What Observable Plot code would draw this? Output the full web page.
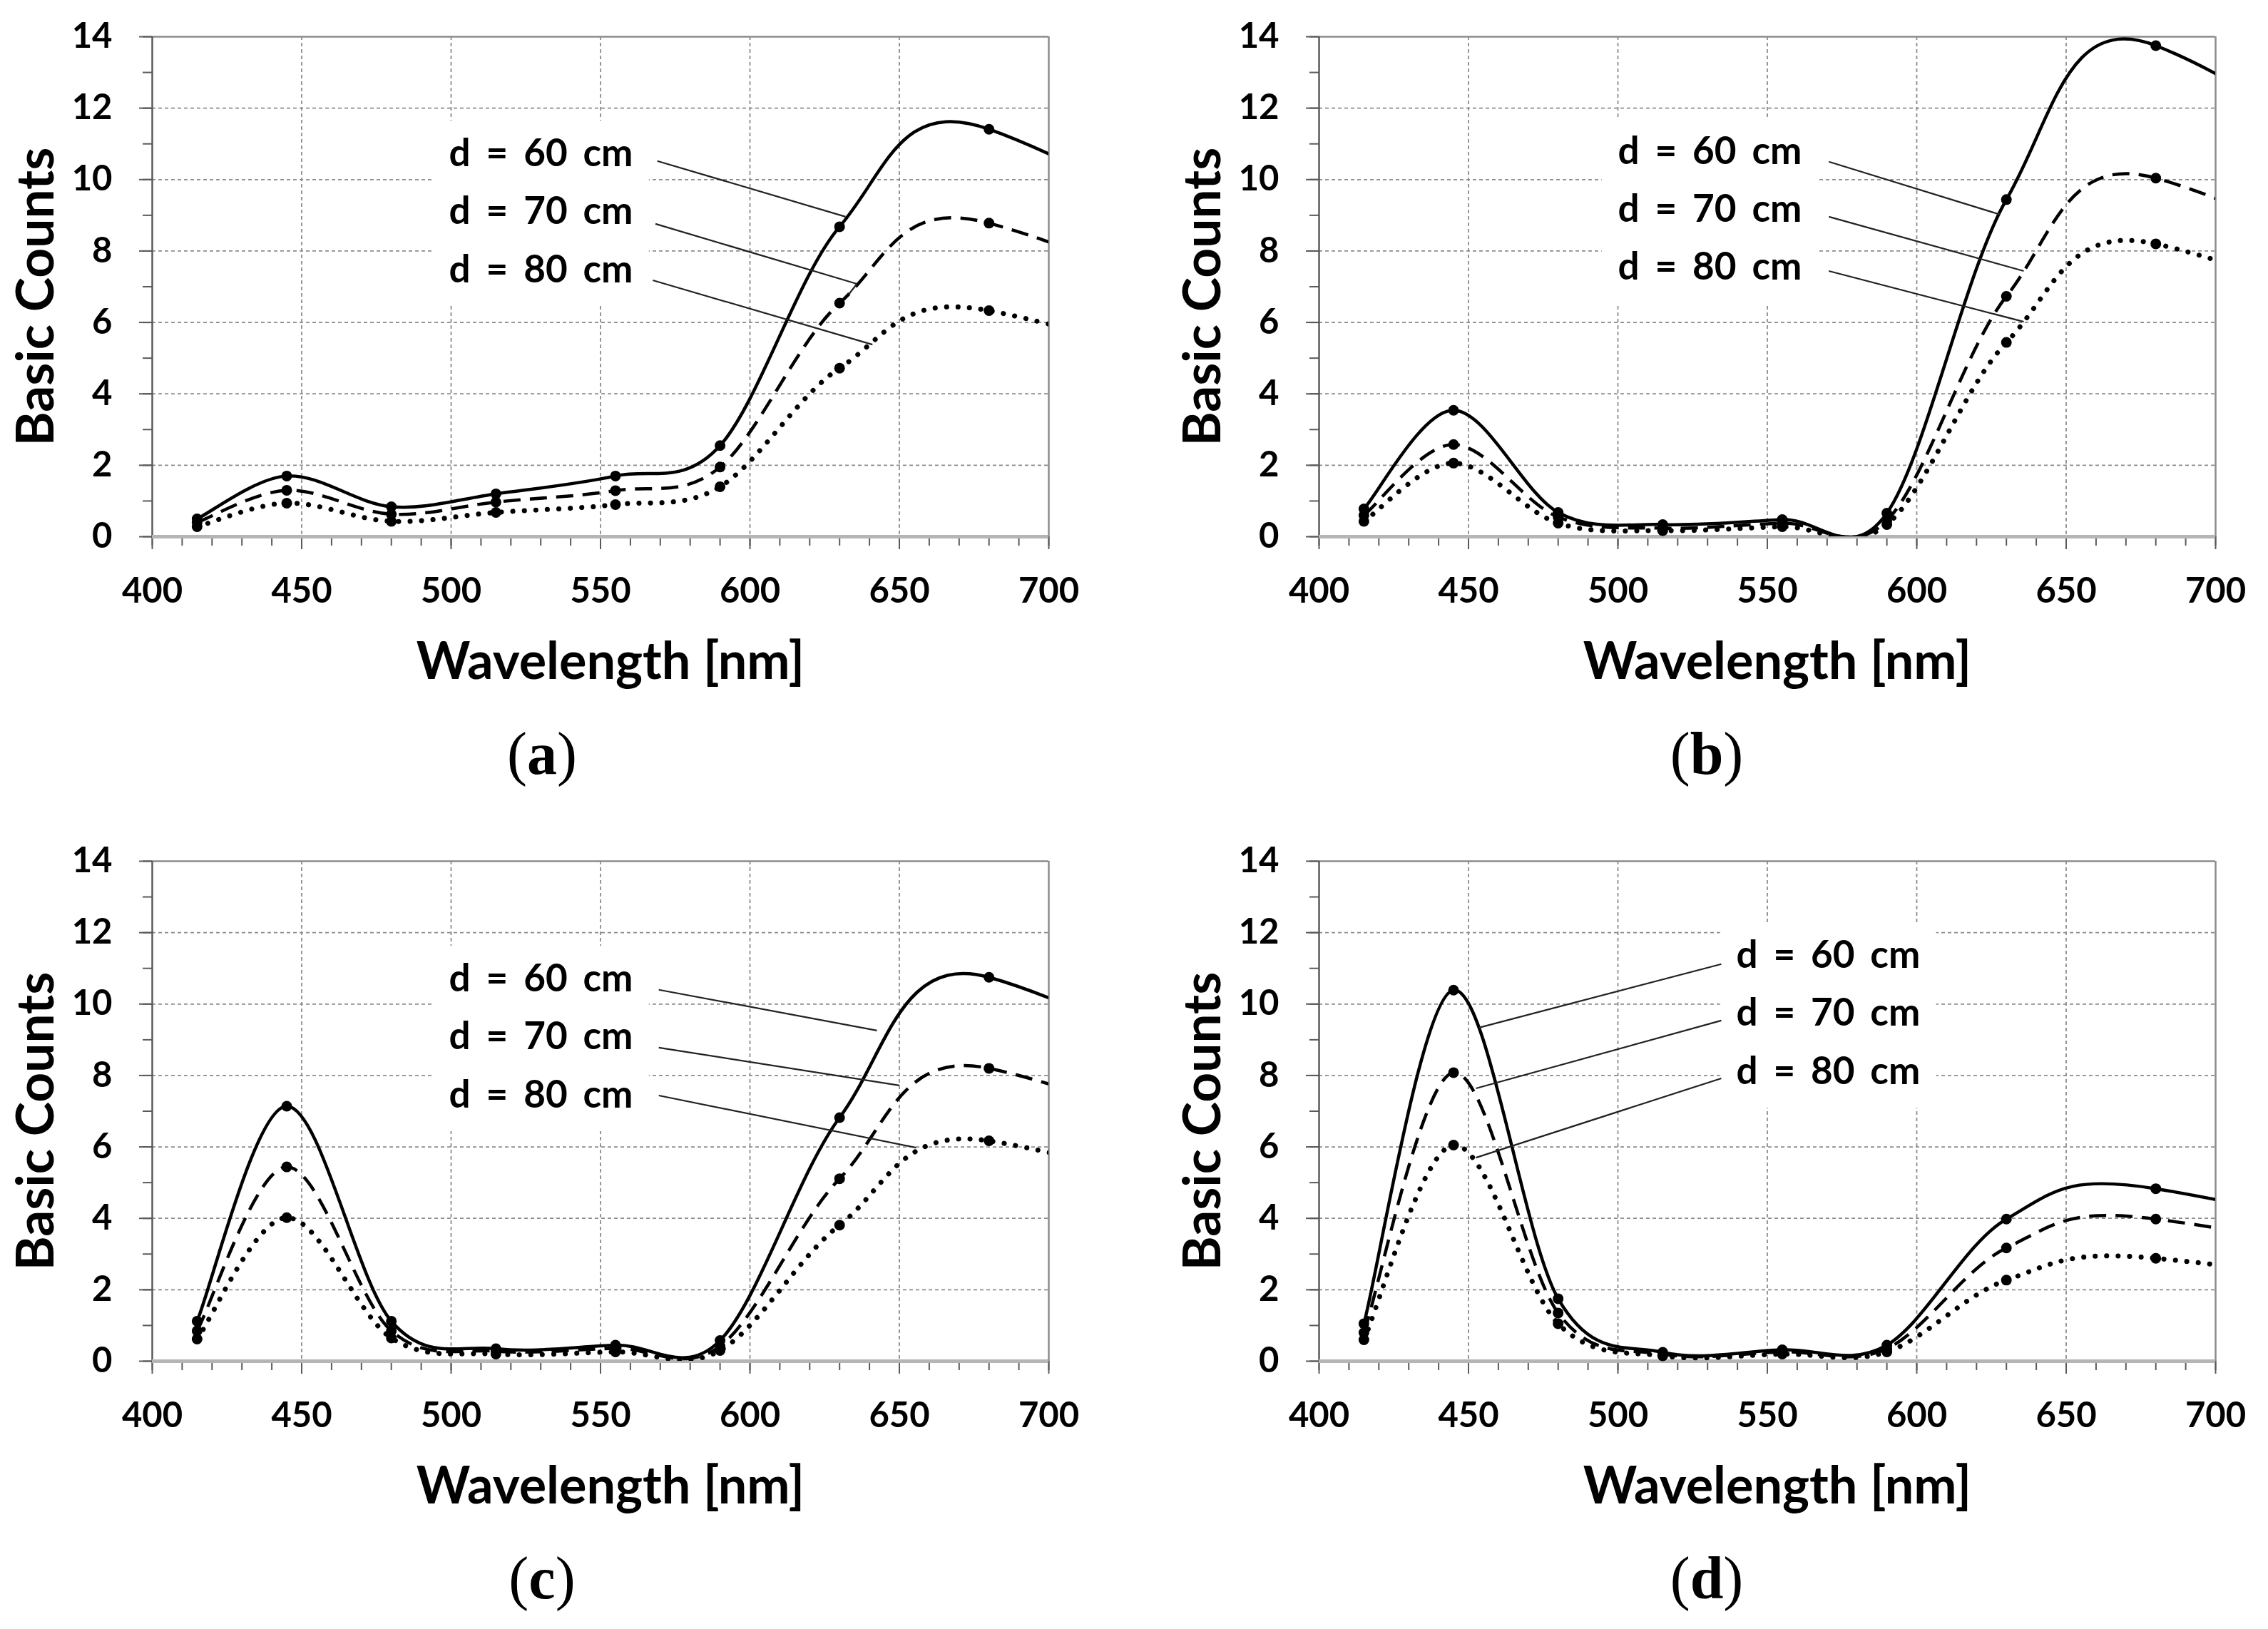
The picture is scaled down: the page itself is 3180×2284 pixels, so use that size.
<!DOCTYPE html>
<html><head><meta charset="utf-8">
<script src="https://cdn.jsdelivr.net/npm/d3@7"></script>
<script src="https://cdn.jsdelivr.net/npm/@observablehq/plot@0.6"></script>
<style>
html,body{margin:0;padding:0;background:#fff;}
#fig{position:relative;width:3180px;height:2284px;background:#fff;overflow:hidden;}
.panel{position:absolute;}
#captions{position:absolute;left:0;top:0;}
.dlabel text{word-spacing:9px;}
</style></head><body><div id="fig"></div>
<script>
// ---- data ----
const wavelengths = [415, 445, 480, 515, 555, 590, 630, 680];
const nirWavelength = 910; // channel beyond the axis: only shapes the smoothed tail
const distances = ["d = 60 cm", "d = 70 cm", "d = 80 cm"];
const panelLetters = ["a", "b", "c", "d"];
const xTicks = [400, 450, 500, 550, 600, 650, 700];
const yTicks = [0, 2, 4, 6, 8, 10, 12, 14];

const a60 = [0.50, 1.70, 0.84, 1.20, 1.70, 2.55, 8.68, 11.41];
const a70 = [0.40, 1.30, 0.63, 0.97, 1.29, 1.95, 6.54, 8.78];
const a80 = [0.28, 0.94, 0.43, 0.68, 0.90, 1.40, 4.72, 6.33];
const aNir = [0.3, 0.2, 0.2];

const b60 = [0.78, 3.54, 0.68, 0.34, 0.48, 0.66, 9.44, 13.75];
const b70 = [0.60, 2.58, 0.55, 0.24, 0.38, 0.45, 6.73, 10.04];
const b80 = [0.43, 2.06, 0.38, 0.17, 0.28, 0.34, 5.44, 8.20];
const bNir = [0.3, 0.2, 0.2];

const c60 = [1.12, 7.14, 1.12, 0.35, 0.45, 0.58, 6.82, 10.75];
const c70 = [0.85, 5.44, 0.85, 0.28, 0.36, 0.42, 5.11, 8.20];
const c80 = [0.62, 4.02, 0.65, 0.20, 0.26, 0.30, 3.81, 6.17];
const cNir = [0.3, 0.2, 0.15];

const d60 = [1.05, 10.39, 1.75, 0.25, 0.32, 0.45, 3.98, 4.83];
const d70 = [0.80, 8.08, 1.35, 0.20, 0.26, 0.35, 3.17, 3.98];
const d80 = [0.60, 6.05, 1.05, 0.15, 0.20, 0.26, 2.27, 2.88];
const dNir = [0.2, 0.15, 0.1];

// ---- annotation placement (data units) ----
const labelPos = {
  a: {x: 499.3, y: [10.71, 9.09, 7.45]},
  b: {x: 500.0, y: [10.77, 9.15, 7.53]},
  c: {x: 499.3, y: [10.69, 9.07, 7.43]},
  d: {x: 539.6, y: [11.35, 9.73, 8.09]}
};
const leaderLines = {
  a: [[569, 10.52, 632, 8.96], [568.4, 8.76, 635.8, 7.08], [635.8, 7.08, 633, 6.78], [567.5, 7.18, 641, 5.38]],
  b: [[570.6, 10.5, 627.9, 9.02], [570.6, 8.96, 635.8, 7.44], [570.6, 7.44, 635.8, 6.02]],
  c: [[569.5, 10.4, 642.5, 9.26], [569.5, 8.78, 650, 7.72], [569.5, 7.44, 655.6, 5.98]],
  d: [[534.6, 11.12, 453.5, 9.34], [534.6, 9.54, 452.5, 7.64], [534.6, 7.92, 452.5, 5.70]]
};

const seriesByPanel = {
  a: {vals: [a60, a70, a80], nir: aNir},
  b: {vals: [b60, b70, b80], nir: bNir},
  c: {vals: [c60, c70, c80], nir: cNir},
  d: {vals: [d60, d70, d80], nir: dNir}
};

// ---- layout ----
const layout = {
  a: {left: 0, top: 0, ml: 213, mr: 120, capX: 760},
  b: {left: 1590, top: 0, ml: 259, mr: 74, capX: 803},
  c: {left: 0, top: 1156, ml: 213, mr: 120, capX: 760},
  d: {left: 1590, top: 1156, ml: 259, mr: 74, capX: 803}
};
const lineStyles = [
  {strokeWidth: 4.5, strokeDasharray: null, strokeLinecap: "butt"},
  {strokeWidth: 4.5, strokeDasharray: "24,13", strokeLinecap: "butt"},
  {strokeWidth: 7, strokeDasharray: "0.1,16", strokeLinecap: "round"}
];

// Spreadsheet-style smoothing: Catmull-Rom tangents, arms scaled by horizontal spacing
function SheetSmooth(context) { this._context = context; }
SheetSmooth.prototype = {
  areaStart() { this._line = 0; },
  areaEnd() { this._line = NaN; },
  lineStart() { this._pts = []; },
  point(x, y) { this._pts.push([+x, +y]); },
  lineEnd() {
    const p = this._pts, n = p.length, c = this._context;
    if (!n) return;
    c.moveTo(p[0][0], p[0][1]);
    if (n === 1) return;
    if (n === 2) { c.lineTo(p[1][0], p[1][1]); return; }
    for (let i = 0; i < n - 1; i++) {
      const p0 = p[Math.max(i - 1, 0)], p1 = p[i], p2 = p[i + 1], p3 = p[Math.min(i + 2, n - 1)];
      const s01 = Math.sqrt(Math.abs(p1[0] - p0[0])), s12 = Math.sqrt(Math.abs(p2[0] - p1[0])), s23 = Math.sqrt(Math.abs(p3[0] - p2[0]));
      const k1 = i > 0 ? 2 * s12 / (s01 + s12) : 1;
      const k2 = i + 2 < n ? 2 * s12 / (s12 + s23) : 1;
      c.bezierCurveTo(
        p1[0] + (p2[0] - p0[0]) / 6 * k1, p1[1] + (p2[1] - p0[1]) / 6 * k1,
        p2[0] - (p3[0] - p1[0]) / 6 * k2, p2[1] - (p3[1] - p1[1]) / 6 * k2,
        p2[0], p2[1]);
    }
  }
};
const sheetSmooth = context => new SheetSmooth(context);

const gridStyle = {stroke: "#8c8c8c", strokeOpacity: 1, strokeWidth: 1.8, strokeDasharray: "5,4"};

function makePanel(key) {
  const L = layout[key];
  const S = seriesByPanel[key];
  const rows = [];
  S.vals.forEach((vals, i) => {
    wavelengths.forEach((w, j) => rows.push({dist: distances[i], w, v: vals[j], dot: true}));
    rows.push({dist: distances[i], w: nirWavelength, v: S.nir[i], dot: false});
  });
  const labels = distances.map((t, i) => ({text: t, x: labelPos[key].x, y: labelPos[key].y[i]}));
  const box = [{x1: labelPos[key].x - 5.3, x2: labelPos[key].x + 67, y1: d3.min(labelPos[key].y) - 1.0, y2: d3.max(labelPos[key].y) + 0.93}];
  const leaders = leaderLines[key].map(([x1, y1, x2, y2]) => ({x1, y1, x2, y2}));

  const lineMarks = distances.map((dname, i) => Plot.line(rows.filter(r => r.dist === dname), {
    x: "w", y: "v", curve: sheetSmooth, stroke: "#000", clip: true, ...lineStyles[i]
  }));

  return Plot.plot({
    width: 1590, height: 1128,
    marginLeft: L.ml, marginRight: L.mr, marginTop: 51, marginBottom: 376,
    x: {domain: [400, 700], label: null},
    y: {domain: [0, 14], label: null},
    style: {fontFamily: "Lato, 'Open Sans', sans-serif", fontWeight: 700, fontSize: "49px", color: "#000", background: "#fff", overflow: "visible"},
    marks: [
      Plot.gridY(yTicks.filter(t => t > 0 && t < 14), gridStyle),
      Plot.gridX(xTicks.filter(t => t > 400 && t < 700), gridStyle),
      Plot.ruleY([14], {stroke: "#8c8c8c", strokeWidth: 2.5}),
      Plot.ruleX([700], {stroke: "#8c8c8c", strokeWidth: 2.5}),
      Plot.axisY({ticks: d3.range(0, 15, 1), tickSize: 13, tickFormat: () => "", label: null, stroke: "#5a5a5a", strokeWidth: 2}),
      Plot.axisY({ticks: yTicks, tickSize: 18, tickPadding: 38, label: null, stroke: "#5a5a5a", strokeWidth: 2, fill: "#000"}),
      Plot.axisX({ticks: d3.range(400, 701, 10), tickSize: 13, tickFormat: () => "", label: null, stroke: "#5a5a5a", strokeWidth: 2}),
      Plot.axisX({ticks: xTicks, tickSize: 18, tickPadding: 40, label: null, stroke: "#5a5a5a", strokeWidth: 2, fill: "#000"}),
      Plot.ruleX([400], {stroke: "#5a5a5a", strokeWidth: 2.5}),
      Plot.ruleY([0], {stroke: "#b5b5b5", strokeWidth: 5}),
      Plot.rect(box, {x1: "x1", x2: "x2", y1: "y1", y2: "y2", fill: "#fff"}),
      ...lineMarks,
      Plot.dot(rows.filter(r => r.dot), {x: "w", y: "v", r: 7.5, fill: "#000", stroke: null}),
      Plot.link(leaders, {x1: "x1", y1: "y1", x2: "x2", y2: "y2", stroke: "#222", strokeWidth: 2.2}),
      Plot.text(labels, {x: "x", y: "y", text: "text", textAnchor: "start", lineAnchor: "middle", fontSize: 53, fontWeight: 700, fill: "#000", className: "dlabel"}),
      Plot.text(["Wavelength [nm]"], {frameAnchor: "bottom", textAnchor: "middle", lineAnchor: "middle", dx: 14, dy: 176, fontSize: 72, fontWeight: 700, fill: "#000"}),
      Plot.text(["Basic Counts"], {frameAnchor: "left", textAnchor: "middle", lineAnchor: "middle", dx: -162, dy: 14, rotate: -90, fontSize: 73, fontWeight: 700, fill: "#000"})
    ]
  });
}

const fig = document.getElementById("fig");
panelLetters.forEach(key => {
  const svg = makePanel(key);
  svg.classList.add("panel");
  svg.style.left = layout[key].left + "px";
  svg.style.top = layout[key].top + "px";
  fig.appendChild(svg);
});

// captions (a)...(d)
const ns = "http://www.w3.org/2000/svg";
const cap = document.createElementNS(ns, "svg");
cap.setAttribute("id", "captions");
cap.setAttribute("width", 3180);
cap.setAttribute("height", 2284);
panelLetters.forEach(key => {
  const L = layout[key];
  const t = document.createElementNS(ns, "text");
  t.setAttribute("x", L.left + L.capX);
  t.setAttribute("y", L.top + 1085);
  t.setAttribute("text-anchor", "middle");
  t.setAttribute("font-family", "'Liberation Serif', 'DejaVu Serif', serif");
  t.setAttribute("font-size", 84);
  const p1 = document.createElementNS(ns, "tspan"); p1.textContent = "(";
  const p2 = document.createElementNS(ns, "tspan"); p2.textContent = key; p2.setAttribute("font-weight", "bold");
  const p3 = document.createElementNS(ns, "tspan"); p3.textContent = ")";
  t.append(p1, p2, p3);
  cap.appendChild(t);
});
fig.appendChild(cap);
</script>
</body></html>
